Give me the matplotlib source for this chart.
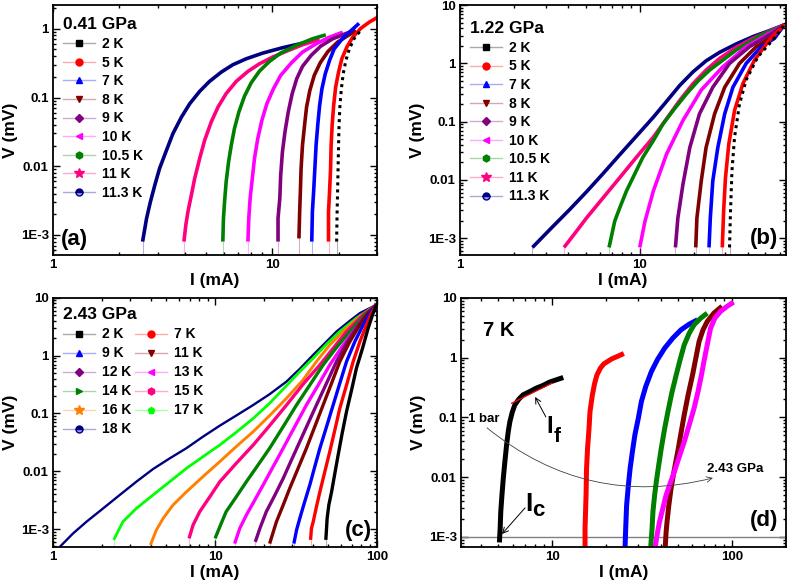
import matplotlib
matplotlib.use("Agg")
import matplotlib.pyplot as plt
from matplotlib.lines import Line2D
from matplotlib.ticker import NullFormatter, LogLocator

plt.rcParams['font.family'] = ['Liberation Sans', 'DejaVu Sans']
plt.rcParams['font.weight'] = 'bold'
plt.rcParams['axes.labelweight'] = 'bold'

# ---------------- data ----------------
# Panel (a) 0.41 GPa
a_labels = ['2 K', '5 K', '7 K', '8 K', '9 K', '10 K', '10.5 K', '11 K', '11.3 K']
a_I = [
    [19.6, 19.7, 19.8, 19.9, 20.0, 20.1, 20.3, 20.6, 21.0, 21.6, 22.4, 23.6, 25.3],
    [18.0, 18.0, 18.2, 18.4, 18.5, 18.7, 19.0, 19.4, 20.0, 20.7, 21.8, 23.2, 25.3, 27.6, 30.1],
    [15.1, 15.2, 15.4, 15.6, 15.8, 16.1, 16.4, 16.8, 17.4, 18.2, 19.1, 20.9, 22.8, 24.8],
    [13.2, 13.3, 13.4, 13.5, 13.7, 14.0, 14.3, 14.8, 15.5, 16.5, 17.9, 19.8, 24.0],
    [10.6, 10.6, 10.8, 10.9, 11.1, 11.4, 11.8, 12.3, 12.9, 13.7, 15.0, 16.6, 18.8, 22.8],
    [7.73, 7.8, 7.91, 8.09, 8.28, 8.57, 8.95, 9.43, 10.1, 10.9, 12.2, 13.7, 15.8, 18.2, 20.9],
    [5.94, 5.98, 6.05, 6.15, 6.31, 6.49, 6.71, 7.03, 7.46, 8.0, 8.73, 9.69, 10.9, 12.8, 15.2, 17.5],
    [3.95, 4.03, 4.12, 4.27, 4.42, 4.66, 4.91, 5.26, 5.65, 6.15, 6.84, 7.73, 8.73, 10.0, 11.5, 13.7, 16.4],
    [2.56, 2.67, 2.78, 2.91, 3.06, 3.29, 3.52, 3.85, 4.2, 4.66, 5.17, 5.84, 6.6, 7.59, 9.03, 11.1, 14.7],
]
a_V = [
    [8e-4, 2.18e-3, 4.3e-3, 9.3e-3, 0.0202, 0.0394, 0.077, 0.134, 0.222, 0.347, 0.51, 0.73, 0.96],
    [8e-4, 2.18e-3, 4.3e-3, 9.3e-3, 0.0202, 0.0394, 0.077, 0.142, 0.234, 0.366, 0.54, 0.755, 1.02, 1.25, 1.47],
    [8e-4, 2.18e-3, 4.3e-3, 9.3e-3, 0.0202, 0.0418, 0.077, 0.134, 0.222, 0.347, 0.51, 0.73, 0.94, 1.2],
    [8.9e-4, 2.18e-3, 4.3e-3, 9.3e-3, 0.0202, 0.0394, 0.0728, 0.127, 0.21, 0.32, 0.468, 0.64, 0.944],
    [8e-4, 1.75e-3, 3.4e-3, 7.4e-3, 0.0162, 0.0316, 0.0617, 0.114, 0.188, 0.284, 0.41, 0.56, 0.715, 0.914],
    [8e-4, 1.75e-3, 3.4e-3, 6.6e-3, 0.013, 0.0253, 0.0467, 0.0814, 0.134, 0.21, 0.32, 0.458, 0.605, 0.755, 0.893],
    [8e-4, 1.75e-3, 3.05e-3, 5.9e-3, 0.0116, 0.0202, 0.0353, 0.0617, 0.105, 0.164, 0.243, 0.335, 0.443, 0.571, 0.715, 0.817],
    [8e-4, 1.4e-3, 2.18e-3, 3.8e-3, 6.6e-3, 0.013, 0.0239, 0.0441, 0.0728, 0.114, 0.172, 0.24, 0.31, 0.387, 0.468, 0.585, 0.70],
    [8e-4, 1.75e-3, 3.05e-3, 5.3e-3, 9.3e-3, 0.0171, 0.0299, 0.052, 0.0814, 0.123, 0.172, 0.234, 0.30, 0.366, 0.443, 0.53, 0.65],
]

# Panel (b) 1.22 GPa
b_labels = a_labels
b_I = [
    [31.6, 32.0, 32.6, 33.7, 35.9, 39.1, 45.4, 55.0, 63.8],
    [28.8, 29.3, 30.0, 31.3, 33.7, 37.5, 43.5, 52.7, 63.8],
    [24.3, 24.7, 25.5, 27.2, 29.7, 33.0, 39.1, 47.4, 56.2, 63.8],
    [20.5, 20.8, 22.0, 23.4, 26.1, 29.7, 35.9, 44.5, 55.0, 63.8],
    [15.8, 16.3, 17.4, 19.0, 21.5, 25.5, 31.6, 40.8, 52.7, 63.8],
    [10.0, 10.7, 11.9, 14.1, 17.4, 22.0, 29.0, 39.1, 52.7, 63.8],
    [6.75, 7.26, 7.74, 8.43, 10.4, 11.9, 13.5, 15.6, 18.2, 21.1, 24.5, 29.0, 34.4, 46.4, 63.8],
    [3.79, 4.44, 5.05, 6.25, 7.74, 9.57, 11.9, 14.1, 16.7, 19.8, 23.4, 27.8, 34.4, 42.6, 52.7, 63.8],
    [2.53, 3.3, 4.08, 5.05, 6.25, 7.74, 9.57, 11.9, 14.1, 16.7, 19.8, 23.4, 27.8, 34.4, 42.6, 52.7, 63.8],
]
b_V = [
    [6.9e-4, 2.9e-3, 0.0143, 0.054, 0.2, 0.52, 1.3, 2.54, 4.6],
    [6.9e-4, 2.9e-3, 0.0109, 0.041, 0.156, 0.45, 1.14, 2.54, 4.6],
    [6.9e-4, 2.2e-3, 9.6e-3, 0.036, 0.136, 0.39, 1.0, 1.94, 2.7, 4.6],
    [6.9e-4, 2.2e-3, 9.6e-3, 0.036, 0.136, 0.39, 1.0, 1.94, 2.9, 4.6],
    [6.9e-4, 2.2e-3, 8.4e-3, 0.036, 0.136, 0.39, 1.0, 1.94, 3.1, 4.6],
    [6.9e-4, 1.95e-3, 6.4e-3, 0.0277, 0.105, 0.35, 0.875, 1.94, 3.3, 4.6],
    [6.9e-4, 1.95e-3, 3.3e-3, 6.4e-3, 0.0243, 0.0472, 0.092, 0.166, 0.30, 0.5, 0.77, 1.14, 1.7, 2.97, 4.6],
    [6.9e-4, 1.3e-3, 2.2e-3, 4.9e-3, 0.0109, 0.0243, 0.054, 0.112, 0.232, 0.45, 0.767, 1.22, 1.89, 2.7, 3.6, 4.6],
    [6.9e-4, 1.6e-3, 3.1e-3, 6.2e-3, 0.0128, 0.027, 0.0561, 0.119, 0.223, 0.42, 0.718, 1.11, 1.55, 2.16, 2.89, 3.67, 4.6],
]

# Panel (c) 2.43 GPa
c_labels = ['2 K', '7 K', '9 K', '11 K', '12 K', '13 K', '14 K', '15 K', '16 K', '17 K', '18 K']
c_I = [
    [48.2, 48.7, 49.1, 50.3, 52.3, 54.8, 57.4, 60.8, 64.7, 69.5, 74.5, 81.2, 88.0, 93.6, 99],
    [38.8, 39.3, 40.3, 42.2, 44.3, 47.5, 51.0, 54.8, 58.8, 64.7, 71.1, 78.2, 85.9, 92.2, 99],
    [30.6, 31.8, 33.3, 35.7, 38.4, 41.2, 44.3, 48.7, 53.5, 58.8, 64.7, 72.8, 82.0, 90.1, 99],
    [21.7, 23.9, 26.3, 28.9, 32.5, 36.6, 41.2, 46.4, 52.3, 58.8, 67.8, 78.2, 88.0, 99],
    [17.7, 18.9, 20.7, 23.4, 26.3, 29.6, 33.3, 37.5, 42.2, 48.7, 56.1, 64.7, 74.5, 85.9, 99],
    [13.2, 14.2, 15.6, 17.6, 19.8, 22.8, 26.3, 31.0, 36.6, 43.3, 51.0, 60.2, 71.1, 85.9, 99],
    [10.0, 10.7, 11.7, 13.5, 15.6, 18.4, 21.7, 26.3, 31.8, 38.4, 46.4, 56.1, 67.8, 83.9, 99],
    [6.91, 7.31, 8.04, 9.27, 10.7, 13.5, 17.2, 21.7, 27.6, 34.9, 44.3, 53.5, 64.7, 82.0, 99],
    [3.99, 4.34, 4.78, 5.5, 6.65, 8.43, 10.7, 13.5, 17.2, 21.7, 27.6, 34.9, 42.2, 51.0, 61.7, 78.2, 99],
    [2.37, 2.7, 3.27, 4.14, 5.25, 6.65, 8.43, 10.7, 13.5, 17.2, 21.7, 27.6, 33.3, 40.3, 48.7, 58.8, 74.5, 99],
    [1.10, 1.33, 1.61, 2.04, 2.58, 3.27, 4.14, 5.25, 6.65, 8.43, 10.7, 13.5, 17.2, 21.7, 27.6, 33.3, 40.3, 48.7, 56.1, 67.8, 78.2, 99],
]
c_V = [
    [6.5e-4, 1.03e-3, 1.53e-3, 2.6e-3, 4.4e-3, 9.2e-3, 0.019, 0.0454, 0.108, 0.255, 0.61, 1.34, 3.0, 5.08, 7.57],
    [6.5e-4, 1.03e-3, 1.34e-3, 2.44e-3, 4.4e-3, 9.8e-3, 0.0219, 0.0518, 0.123, 0.31, 0.79, 1.75, 3.4, 5.43, 7.57],
    [5.6e-4, 9.6e-4, 1.53e-3, 2.97e-3, 5.8e-3, 0.012, 0.025, 0.059, 0.14, 0.333, 0.79, 1.75, 3.4, 5.43, 7.57],
    [5.6e-4, 1.34e-3, 2.6e-3, 5.1e-3, 0.0112, 0.025, 0.059, 0.14, 0.333, 0.79, 1.75, 3.4, 5.43, 7.57],
    [6.0e-4, 1.03e-3, 2.0e-3, 3.88e-3, 7.5e-3, 0.0157, 0.0325, 0.0677, 0.14, 0.333, 0.79, 1.64, 3.0, 5.08, 7.57],
    [5.6e-4, 1.03e-3, 1.75e-3, 3.2e-3, 5.8e-3, 0.012, 0.025, 0.059, 0.14, 0.31, 0.69, 1.38, 2.6, 5.08, 7.57],
    [6.9e-4, 1.1e-3, 2.0e-3, 3.6e-3, 6.6e-3, 0.0128, 0.025, 0.059, 0.14, 0.31, 0.69, 1.38, 2.6, 5.08, 7.57],
    [6.9e-4, 1.17e-3, 2.0e-3, 3.6e-3, 6.6e-3, 0.0137, 0.0285, 0.0615, 0.14, 0.32, 0.69, 1.34, 2.6, 5.08, 7.57],
    [5.3e-4, 9.6e-4, 1.53e-3, 2.6e-3, 4.4e-3, 8.1e-3, 0.0147, 0.0267, 0.0485, 0.0918, 0.183, 0.38, 0.79, 1.53, 2.6, 4.75, 7.57],
    [6.5e-4, 1.34e-3, 2.28e-3, 3.88e-3, 6.6e-3, 0.0112, 0.0179, 0.0285, 0.0472, 0.082, 0.15, 0.303, 0.53, 0.9, 1.58, 2.6, 4.45, 7.57],
    [4.9e-4, 8.4e-4, 1.34e-3, 2.28e-3, 3.88e-3, 6.6e-3, 0.0109, 0.0167, 0.025, 0.0397, 0.0615, 0.0918, 0.14, 0.215, 0.356, 0.59, 1.03, 1.75, 2.61, 4.0, 5.43, 7.57],
]

# Panel (d) 7 K, pressures 1 bar -> 2.43 GPa
d_I = [
    [5.07, 5.12, 5.16, 5.24, 5.33, 5.44, 5.56, 5.68, 5.8, 5.98, 6.18, 6.5, 6.87, 7.48, 8.13, 8.85, 9.63, 10.5, 11.5],
    [15.2, 15.2, 15.3, 15.4, 15.5, 15.7, 16.0, 16.2, 16.7, 17.2, 17.7, 18.5, 19.3, 20.3, 21.4, 23.1, 25.0],
    [25.4, 25.6, 25.9, 26.5, 27.1, 27.9, 28.8, 30.1, 31.3, 33.1, 35.6, 38.4, 42.2, 46.8, 52.0, 57.8, 64.3],
    [35.3, 35.9, 36.3, 37.1, 37.9, 39.1, 40.4, 42.2, 44.0, 46.2, 48.9, 51.4, 54.2, 57.8, 61.5, 67.0, 72.8],
    [42.5, 43.0, 43.5, 44.5, 45.8, 47.7, 49.9, 52.0, 54.2, 57.0, 60.3, 62.9, 65.6, 69.0, 72.8, 79.3, 88.0],
    [37.4, 38.4, 39.5, 41.2, 43.0, 45.3, 47.8, 50.9, 54.2, 57.8, 61.5, 64.7, 67.6, 69.8, 72.8, 76.0, 80.3, 86.3, 94.0, 102],
]
d_V = [
    [8.1e-4, 1.4e-3, 2.65e-3, 5.05e-3, 9.6e-3, 0.0182, 0.0347, 0.058, 0.085, 0.122, 0.162, 0.201, 0.238, 0.27, 0.308, 0.341, 0.388, 0.424, 0.464],
    [6.9e-4, 1.4e-3, 2.65e-3, 5.05e-3, 0.0141, 0.0305, 0.0658, 0.125, 0.238, 0.373, 0.51, 0.665, 0.78, 0.86, 0.95, 1.05, 1.17],
    [6.9e-4, 1.4e-3, 3.4e-3, 7.4e-3, 0.0141, 0.0268, 0.051, 0.0968, 0.184, 0.328, 0.585, 0.916, 1.44, 2.11, 2.91, 3.62, 4.29],
    [6.9e-4, 1.4e-3, 2.65e-3, 5.05e-3, 8.4e-3, 0.016, 0.0305, 0.0658, 0.125, 0.254, 0.51, 0.916, 1.63, 2.56, 3.53, 4.56, 5.53],
    [6.9e-4, 1.23e-3, 1.8e-3, 3.4e-3, 6.5e-3, 0.0132, 0.0268, 0.0543, 0.11, 0.238, 0.51, 0.977, 1.86, 2.91, 4.0, 5.53, 7.2],
    [6.9e-4, 1.15e-3, 1.8e-3, 3.0e-3, 5.05e-3, 7.9e-3, 0.0124, 0.0221, 0.039, 0.0748, 0.142, 0.27, 0.51, 0.86, 1.63, 3.1, 4.56, 5.9, 7.2, 8.45],
]
d_fit_I = [5.93, 9.95]
d_fit_V = [0.172, 0.373]
d_Ic = 1e-3

# ---------------- styles ----------------
ab_colors = ['#000000', '#ff0000', '#0000ff', '#800000', '#800080', '#ff00ff',
             '#008000', '#ff0080', '#000080']
ab_markers = ['s', 'o', '^', 'v', 'D', '<', 'h', '*', 'o']
c_colors = ['#000000', '#ff0000', '#0000ff', '#800000', '#800080', '#ff00ff',
            '#008000', '#ff0080', '#ff8000', '#00ff00', '#000080']
c_markers = ['s', 'o', '^', 'v', 'D', '<', '>', 'h', '*', 'p', 'o']
c_widths = [2.4, 2.4, 2.4, 2.4, 2.4, 2.4, 2.4, 2.4, 2.1, 2.0, 1.7]
d_colors = ['#000000', '#ff0000', '#0000ff', '#008000', '#800000', '#ff00ff']

fig = plt.figure(figsize=(7.87, 5.85), dpi=100)
axa = fig.add_axes([0.0673, 0.564, 0.412, 0.427])
axb = fig.add_axes([0.5845, 0.564, 0.414, 0.427])
axc = fig.add_axes([0.0673, 0.065, 0.412, 0.426])
axd = fig.add_axes([0.5858, 0.065, 0.413, 0.426])

TICK_FS = 9.5
LABEL_FS = 12.5
LEG_FS = 10


def style_axes(ax, xlim, ylim, xticks, yticks, ylabels):
    ax.set_xscale('log')
    ax.set_yscale('log')
    ax.set_xticks(xticks, [('%g' % t) for t in xticks])
    ax.set_yticks(yticks, ylabels)
    ax.xaxis.set_minor_locator(LogLocator(base=10, subs=range(2, 10)))
    ax.yaxis.set_minor_locator(LogLocator(base=10, subs=range(2, 10)))
    ax.xaxis.set_minor_formatter(NullFormatter())
    ax.yaxis.set_minor_formatter(NullFormatter())
    ax.set_xlim(*xlim)
    ax.set_ylim(*ylim)
    ax.tick_params(which='both', direction='in', top=True, right=True,
                   labelsize=TICK_FS, width=1.0)
    ax.tick_params(which='major', length=5, pad=3)
    ax.tick_params(which='minor', length=2.5)
    for s in ax.spines.values():
        s.set_linewidth(1.3)
    ax.set_xlabel('I (mA)', fontsize=LABEL_FS, fontweight='bold', labelpad=1)
    ax.set_ylabel('V (mV)', fontsize=LABEL_FS, fontweight='bold', labelpad=2)


def legend_handle(c, m):
    kw = dict(color=c + '55', lw=1.0, marker=m, mfc=c, mec=c, ms=5)
    if m == 'o' and c == '#000080':
        kw.update(fillstyle='top', mfcalt='#9999ff')
    if m == '*':
        kw['ms'] = 7
    if m == 'D':
        kw['ms'] = 4.5
    return Line2D([], [], **kw)


def draw_set(ax, Is, Vs, colors, ybot, widths):
    for k, (I, V) in enumerate(zip(Is, Vs)):
        c = colors[k]
        ax.plot([I[0], I[0]], [ybot, V[0]], color=c, alpha=0.3, lw=0.8)
        ax.plot(I, V, color=c, lw=widths[k], solid_capstyle='butt', solid_joinstyle='round')


def make_legend(ax, handles, labels, title, anchor, ncol=1, spacing=0.33):
    lg = ax.legend(handles, labels, loc='upper left', bbox_to_anchor=anchor, frameon=False,
                   ncol=ncol, columnspacing=0.3,
                   title=title, title_fontproperties={'weight': 'bold', 'size': 12.5},
                   prop={'weight': 'bold', 'size': LEG_FS}, handlelength=2.3,
                   handletextpad=0.5, labelspacing=spacing, borderaxespad=0.3)
    lg._legend_box.align = 'left'
    return lg


# ---- (a)
ylim_a = (5.1e-4, 2.2)
draw_set(axa, a_I[:0:-1], a_V[:0:-1], ab_colors[:0:-1], ylim_a[0], [2.6] * 8)
axa.plot([a_I[0][0], a_I[0][0]], [ylim_a[0], a_V[0][0]], color='black', alpha=0.3, lw=0.8)
axa.plot(a_I[0], a_V[0], color='#000000', lw=2.2, ls=(0, (1, 1.3)))
style_axes(axa, (1, 30), ylim_a, [1, 10], [1e-3, 0.01, 0.1, 1], ['1E-3', '0.01', '0.1', '1'])
make_legend(axa, [legend_handle(c, m) for c, m in zip(ab_colors, ab_markers)],
            a_labels, '0.41 GPa', (0.0, 0.99))
axa.text(0.025, 0.02, '(a)', transform=axa.transAxes, fontsize=16, fontweight='bold',
         ha='left', va='bottom')

# ---- (b)
ylim_b = (5.1e-4, 10)
draw_set(axb, b_I[:0:-1], b_V[:0:-1], ab_colors[:0:-1], ylim_b[0], [2.6] * 8)
axb.plot([b_I[0][0], b_I[0][0]], [ylim_b[0], b_V[0][0]], color='black', alpha=0.3, lw=0.8)
axb.plot(b_I[0], b_V[0], color='#000000', lw=2.2, ls=(0, (1, 1.3)))
style_axes(axb, (1, 65), ylim_b, [1, 10], [1e-3, 0.01, 0.1, 1, 10],
           ['1E-3', '0.01', '0.1', '1', '10'])
make_legend(axb, [legend_handle(c, m) for c, m in zip(ab_colors, ab_markers)],
            b_labels, '1.22 GPa', (0.0, 0.975))
axb.text(0.975, 0.025, '(b)', transform=axb.transAxes, fontsize=16, fontweight='bold',
         ha='right', va='bottom')

# ---- (c)
ylim_c = (4.9e-4, 10)
draw_set(axc, c_I[::-1], c_V[::-1], c_colors[::-1], ylim_c[0], c_widths[::-1])
style_axes(axc, (1, 100), ylim_c, [1, 10, 100], [1e-3, 0.01, 0.1, 1, 10],
           ['1E-3', '0.01', '0.1', '1', '10'])
hc = [legend_handle(c, m) for c, m in zip(c_colors, c_markers)]
order_col1 = [0, 2, 4, 6, 8, 10]
order_col2 = [1, 3, 5, 7, 9]
hc_o = [hc[i] for i in order_col1] + [hc[i] for i in order_col2]
lc_o = [c_labels[i] for i in order_col1] + [c_labels[i] for i in order_col2]
make_legend(axc, hc_o, lc_o, '2.43 GPa', (0.0, 1.0), ncol=2, spacing=0.36)
axc.text(0.985, 0.025, '(c)', transform=axc.transAxes, fontsize=16, fontweight='bold',
         ha='right', va='bottom')

# ---- (d)
ylim_d = (6.8e-4, 10)
axd.axhline(d_Ic, color='#808080', lw=1.0)
for k, (I, V) in enumerate(zip(d_I, d_V)):
    axd.plot(I, V, color=d_colors[k], lw=3.6, solid_capstyle='butt', solid_joinstyle='round')
axd.plot(d_fit_I, d_fit_V, color='#ff0000', lw=0.9)
style_axes(axd, (3.1, 200), ylim_d, [10, 100], [1e-3, 0.01, 0.1, 1, 10],
           ['1E-3', '0.01', '0.1', '1', '10'])
axd.text(0.068, 0.867, '7 K', transform=axd.transAxes, fontsize=14.5, fontweight='bold',
         ha='left', va='center')
axd.text(0.022, 0.514, '1 bar', transform=axd.transAxes, fontsize=9.5, fontweight='bold',
         ha='left', va='center')
axd.text(0.757, 0.313, '2.43 GPa', transform=axd.transAxes, fontsize=9.5, fontweight='bold',
         ha='left', va='center')
axd.annotate('', xy=(0.775, 0.277), xytext=(0.08, 0.478), xycoords='axes fraction',
             arrowprops=dict(arrowstyle='->', connectionstyle='arc3,rad=0.25',
                             lw=0.6, color='#404040', shrinkA=0, shrinkB=0))
# I_f
axd.text(0.272, 0.484, 'I', transform=axd.transAxes, fontsize=17, fontweight='bold',
         ha='center', va='center')
axd.text(0.297, 0.445, 'f', transform=axd.transAxes, fontsize=15, fontweight='bold',
         ha='center', va='center')
axd.annotate('', xy=(0.228, 0.602), xytext=(0.261, 0.522), xycoords='axes fraction',
             arrowprops=dict(arrowstyle='->', lw=0.7, color='black', shrinkA=0, shrinkB=0))
# I_c
axd.text(0.209, 0.172, 'I', transform=axd.transAxes, fontsize=19, fontweight='bold',
         ha='center', va='center')
axd.text(0.237, 0.145, 'c', transform=axd.transAxes, fontsize=16, fontweight='bold',
         ha='center', va='center')
axd.annotate('', xy=(0.126, 0.052), xytext=(0.197, 0.157), xycoords='axes fraction',
             arrowprops=dict(arrowstyle='->', lw=0.7, color='black', shrinkA=0, shrinkB=0))
axd.text(0.975, 0.065, '(d)', transform=axd.transAxes, fontsize=16, fontweight='bold',
         ha='right', va='bottom')

fig.savefig('out.png', dpi=100)
